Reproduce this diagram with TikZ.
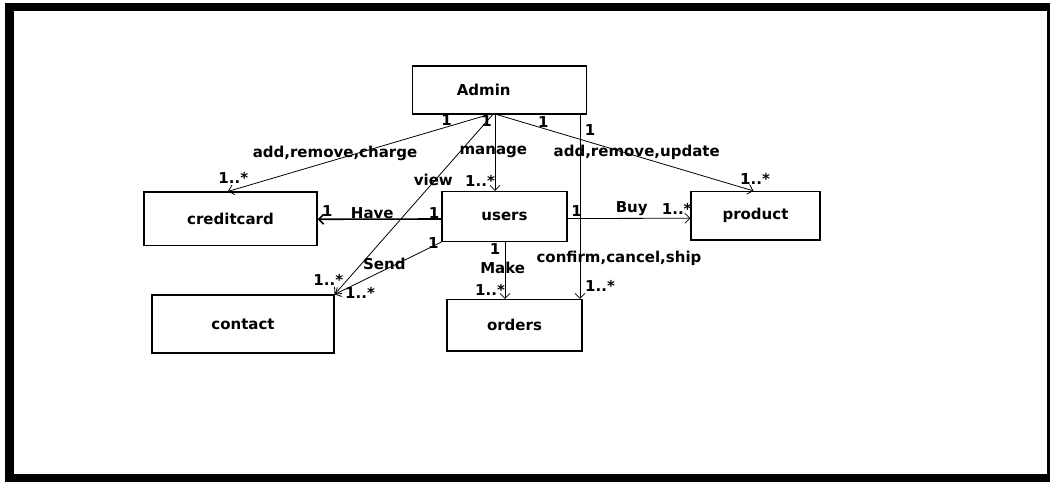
\documentclass[tikz,border=0pt]{standalone}
\usepackage{fontspec}
\setmainfont{DejaVu Sans}
\usetikzlibrary{arrows.meta}
\tikzset{
x=1pt, y=-1pt, % one unit is one pixel of the sheet, y grows downwards
>={Straight Barb[length=5pt,width=10pt]}, % open arrow heads
every node/.style={font=\fontsize{15}{18}\selectfont\bfseries},
class/.style={draw, line width=1.2pt, inner sep=0pt}, % box of a class
assoc/.style={->, line width=0.8pt}, % association between two classes
mult/.style={inner sep=1pt}, % multiplicities and role names
}

\begin{document}
\begin{tikzpicture}
    \useasboundingbox (0,0) rectangle (1050,482);
    \draw[line width=8.5pt] (9.5,7) rectangle (1051,478);

    % classes
    \node[class, minimum width=174pt, minimum height=48pt] (admin) at (499.7,90) {Admin\hspace*{32pt}};
    \node[class, minimum width=173pt, minimum height=53.5pt] (creditcard) at (230.5,218.75) {creditcard};
    \node[class, minimum width=125pt, minimum height=50pt] (users) at (504.5,216.5) {users};
    \node[class, minimum width=129pt, minimum height=48.5pt] (product) at (755.5,215.75) {product};
    \node[class, minimum width=182pt, minimum height=58pt] (contact) at (243,324) {contact};
    \node[class, minimum width=135pt, minimum height=51.5pt] (orders) at (514.5,325.25) {orders};

    % associations
    \draw[assoc] ([xshift=-11pt]admin.south) -- ([xshift=-2.5pt]creditcard.north);
    \draw[assoc] ([xshift=-4.7pt]admin.south) -- ([xshift=-9.5pt]users.north);
    \draw[assoc] ([xshift=-2.7pt]admin.south) -- ([xshift=-2pt]product.north);
    \draw[assoc] ([xshift=-7pt]admin.south) -- (contact.north east);
    \draw[assoc] ([xshift=80.3pt]admin.south) -- ([xshift=65.5pt]orders.north);
    \draw[assoc, line width=1.6pt] ([yshift=-2.5pt]users.west) -- ([yshift=-0.5pt]creditcard.east);
    \draw[assoc] ([yshift=-2pt]users.east) -- ([yshift=-2.5pt]product.west);
    \draw[assoc] (users.south west) -- (contact.north east);
    \draw[assoc] ([xshift=0.5pt]users.south) -- ([xshift=-9.5pt]orders.north);

    % labels
    \node[mult] (a-cc) at (446.7,120) {1};
    \node[mult] (a-view) at (486.7,121) {1};
    \node[mult] (a-prod) at (543.3,121.7) {1};
    \node[mult] (a-ord) at (590,130) {1};
    \node[mult] (charge) at (335,153.3) {add,remove,charge};
    \node[mult] (manage) at (493.3,152.3) {manage};
    \node[mult] (update) at (636.7,152.3) {add,remove,update};
    \node[mult] (cc-a) at (233.3,178.3) {1..*};
    \node[mult] (view) at (433.3,180) {view};
    \node[mult] (u-a) at (480,181) {1..*};
    \node[mult] (p-a) at (755,179.3) {1..*};
    \node[mult] (cc-u) at (327.3,211) {1};
    \node[mult] (have) at (372.3,212.7) {Have};
    \node[mult] (u-cc) at (434,212.7) {1};
    \node[mult] (u-p) at (576.7,210.7) {1};
    \node[mult] (buy) at (631.7,209) {Buy};
    \node[mult] (p-u) at (676.7,209.3) {1..*};
    \node[mult] (u-c) at (433.3,242.7) {1};
    \node[mult] (u-o) at (495,249) {1};
    \node[mult] (send) at (384.3,264.3) {Send};
    \node[mult] (make) at (502.7,268.3) {Make};
    \node[mult] (ship) at (619,258.3) {confirm,cancel,ship};
    \node[mult] (c-a) at (328.3,280) {1..*};
    \node[mult] (c-u) at (360,292.7) {1..*};
    \node[mult] (o-u) at (490,290) {1..*};
    \node[mult] (o-a) at (600,285.7) {1..*};
\end{tikzpicture}
\end{document}
